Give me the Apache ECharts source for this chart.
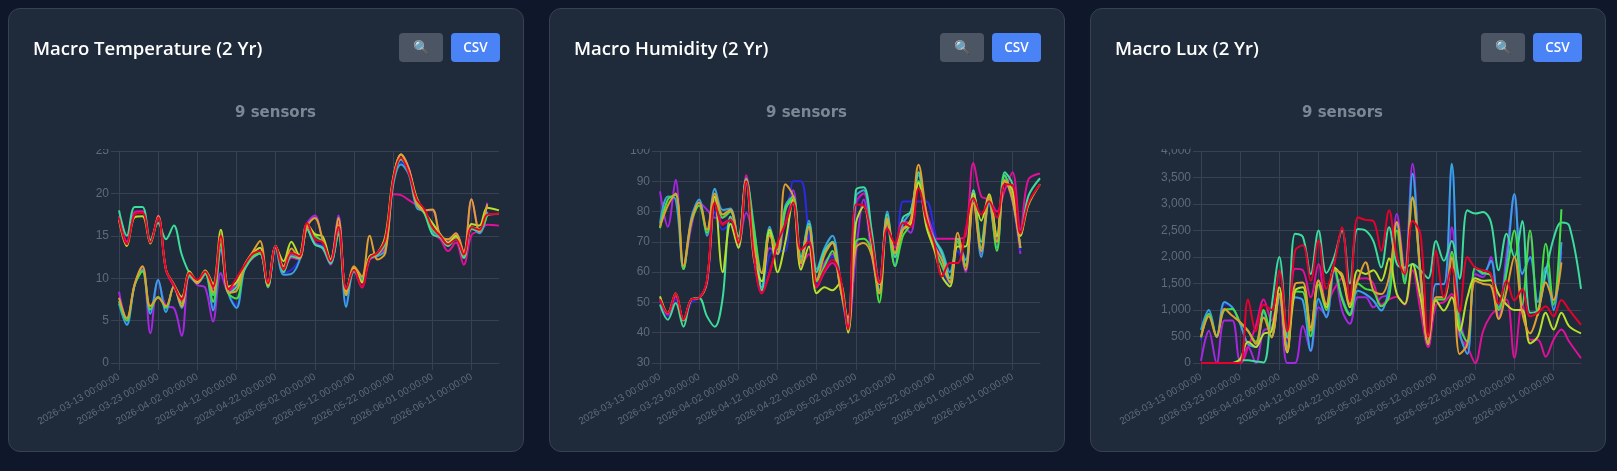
<!DOCTYPE html>
<html>
<head>
<meta charset="utf-8">
<title>Macro charts</title>
<script src="https://cdn.jsdelivr.net/npm/echarts@6/dist/echarts.min.js"></script>
<style>
  html, body { margin: 0; padding: 0; background: #0f172a; width: 1617px; height: 471px; overflow: hidden; }
  .card { position: absolute; top: 8px; width: 516px; height: 444px; box-sizing: border-box; background: #1f2a3a; border: 1px solid #374151; border-radius: 12px; }
  .chart { position: absolute; left: -1px; top: -1px; width: 516px; height: 444px; }
  .head { position: absolute; left: 24px; top: 24px; font: 600 18.5px "Open Sans", "Noto Sans", sans-serif; color: #fff; line-height: 30px; z-index: 2; }
  .btn { position: absolute; top: 24px; height: 29px; line-height: 29px; border-radius: 4px; text-align: center; color: #fff; font: 600 13.5px/29px "Open Sans", "Noto Sans", sans-serif; z-index: 2; }
  .zoom { left: 390px; width: 44px; background: #4b5563; color: #5fd0ee; }
  .csv { left: 442px; width: 49px; background: #4a83f5; }
</style>
</head>
<body>
<div class="card" style="left:8px"><div class="head">Macro Temperature (2 Yr)</div><div class="btn zoom">🔍</div><div class="btn csv">CSV</div><div class="chart" id="chartTemp"></div></div>
<div class="card" style="left:549px"><div class="head">Macro Humidity (2 Yr)</div><div class="btn zoom">🔍</div><div class="btn csv">CSV</div><div class="chart" id="chartHum"></div></div>
<div class="card" style="left:1090px"><div class="head">Macro Lux (2 Yr)</div><div class="btn zoom">🔍</div><div class="btn csv">CSV</div><div class="chart" id="chartLux"></div></div>
<script>
// one category per day, readings below are taken every second day
const categories = [
  '2026-03-13 00:00:00','2026-03-14 00:00:00','2026-03-15 00:00:00','2026-03-16 00:00:00','2026-03-17 00:00:00','2026-03-18 00:00:00','2026-03-19 00:00:00',
  '2026-03-20 00:00:00','2026-03-21 00:00:00','2026-03-22 00:00:00','2026-03-23 00:00:00','2026-03-24 00:00:00','2026-03-25 00:00:00','2026-03-26 00:00:00',
  '2026-03-27 00:00:00','2026-03-28 00:00:00','2026-03-29 00:00:00','2026-03-30 00:00:00','2026-03-31 00:00:00','2026-04-01 00:00:00','2026-04-02 00:00:00',
  '2026-04-03 00:00:00','2026-04-04 00:00:00','2026-04-05 00:00:00','2026-04-06 00:00:00','2026-04-07 00:00:00','2026-04-08 00:00:00','2026-04-09 00:00:00',
  '2026-04-10 00:00:00','2026-04-11 00:00:00','2026-04-12 00:00:00','2026-04-13 00:00:00','2026-04-14 00:00:00','2026-04-15 00:00:00','2026-04-16 00:00:00',
  '2026-04-17 00:00:00','2026-04-18 00:00:00','2026-04-19 00:00:00','2026-04-20 00:00:00','2026-04-21 00:00:00','2026-04-22 00:00:00','2026-04-23 00:00:00',
  '2026-04-24 00:00:00','2026-04-25 00:00:00','2026-04-26 00:00:00','2026-04-27 00:00:00','2026-04-28 00:00:00','2026-04-29 00:00:00','2026-04-30 00:00:00',
  '2026-05-01 00:00:00','2026-05-02 00:00:00','2026-05-03 00:00:00','2026-05-04 00:00:00','2026-05-05 00:00:00','2026-05-06 00:00:00','2026-05-07 00:00:00',
  '2026-05-08 00:00:00','2026-05-09 00:00:00','2026-05-10 00:00:00','2026-05-11 00:00:00','2026-05-12 00:00:00','2026-05-13 00:00:00','2026-05-14 00:00:00',
  '2026-05-15 00:00:00','2026-05-16 00:00:00','2026-05-17 00:00:00','2026-05-18 00:00:00','2026-05-19 00:00:00','2026-05-20 00:00:00','2026-05-21 00:00:00',
  '2026-05-22 00:00:00','2026-05-23 00:00:00','2026-05-24 00:00:00','2026-05-25 00:00:00','2026-05-26 00:00:00','2026-05-27 00:00:00','2026-05-28 00:00:00',
  '2026-05-29 00:00:00','2026-05-30 00:00:00','2026-05-31 00:00:00','2026-06-01 00:00:00','2026-06-02 00:00:00','2026-06-03 00:00:00','2026-06-04 00:00:00',
  '2026-06-05 00:00:00','2026-06-06 00:00:00','2026-06-07 00:00:00','2026-06-08 00:00:00','2026-06-09 00:00:00','2026-06-10 00:00:00','2026-06-11 00:00:00',
  '2026-06-12 00:00:00','2026-06-13 00:00:00','2026-06-14 00:00:00','2026-06-15 00:00:00','2026-06-16 00:00:00','2026-06-17 00:00:00','2026-06-18 00:00:00'
];

// sensor colours, same order in every chart
const sensorColors = ['#a528e0', '#2b2be0', '#e0109a', '#38a3dc', '#3ddc9c', '#44e040', '#b8e02a', '#e0a030', '#e8002c'];

// temperature
const tempPurple = [8.4,5,9.2,11.3,3.5,9.8,6.7,6.5,3.2,10.6,
  9.2,8.9,4.9,10.6,8.3,9.5,11,12.4,13,9.3,
  13.8,11,12.8,12.4,16.4,17.4,14.4,12.3,17.4,8.3,
  11.2,9.8,12.4,12.8,14.6,21.6,24.6,23,19,18,
  18,15,14.5,15.3,13,19.3,15.5,18.9,null];
const tempBlue = [7.1,4.7,9.2,11,6,9.7,6.1,9,6.6,10.3,
  9.4,10.5,6.5,13.4,8.2,6.8,11,12.5,13,9.1,
  13.6,10.6,11,12.2,16,14.2,13.8,11.8,15.7,7,
  10.9,10,12.5,12.7,13.7,21.2,23.7,22.3,18.5,17.8,
  15.7,15,14.1,14.7,12.6,16,15.5,17.9,null];
const tempMagenta = [17.3,14.3,17.8,17.9,14.2,17.4,11,9,7.3,10.4,
  9.6,10.6,8.8,14.8,8.6,9.5,11.3,12.3,12.9,8.9,
  13.7,10.8,12.4,12.2,16,14.2,13.5,11.6,16.5,8.6,
  10.8,8.9,12.2,12.6,13.8,19.9,19.8,19.2,18.6,18,
  15.3,14.6,13.2,14.2,11.6,15.1,15.6,16.3,16.2];
const tempCyan = [7,4.5,9.2,11,5.8,9.8,6,9.1,6.5,10.2,
  9.4,10.5,6.2,13.3,8.1,6.5,11,12.4,12.9,9,
  13.6,10.4,10.5,12,15.8,14,13.5,11.7,15.5,6.6,
  10.8,10,12.5,12.6,13.4,21,23.4,22.2,18.3,17.8,
  15.6,14.9,14,14.6,12.4,16,15.3,17.8,null];
const tempTeal = [18,15,18.4,18.4,14.5,16.5,14.6,16.2,12.8,10.6,
  9.5,10.6,8,14,8.2,9,11,12.4,12.9,9,
  13.8,10.7,12.6,12.3,15.8,14,13.6,11.8,15.2,8,
  10.9,9.6,12.3,12.8,14.2,21.4,24,22.6,18.9,17.6,
  15.2,14.8,13.8,14.7,12.4,15.8,15.6,17.4,17.6];
const tempGreen = [7.3,5,9.2,10.8,6.3,7.8,6.5,9,7,10.4,
  9.5,10.6,7.2,14,8.2,7.6,11.3,12.6,13,9,
  13.7,11,13,12.5,16.2,15,14.3,12,16,8.3,
  11,9.7,12.6,12.9,14.5,21.5,24.1,22.5,19,17.8,
  15.8,15,14,14.8,12.6,16,15.8,17.5,null];
const tempLime = [16.9,13.8,17.2,17.3,14.1,17.3,11,9.3,7.8,10.8,
  9.6,10.9,9.3,15.7,9,9.5,11.5,12.9,13.6,9.2,
  13.7,12,14.3,12.7,16.4,15.2,14.9,12.2,16.2,8.5,
  11.2,9.5,12.6,13,15,21.9,24.6,22.8,19.5,17.8,
  16.5,15.2,14.2,15,13,16.4,16.2,18.3,18];
const tempOrange = [7.7,5.3,9.3,11.4,6.7,7.7,6.7,9,6.7,10.6,
  9.4,10.8,8.3,14.6,8.3,8.5,11.5,13,14.4,9.3,
  13.8,11.4,13.5,12.4,16.1,17.1,14.6,12,17.1,8,
  11.4,10.2,15,12.2,13,21.6,24.6,22.8,18.7,18,
  18.1,15,14.6,15.3,13,19.3,15.5,18.7,null];
const tempRed = [17.1,14,17.5,17.7,14.2,17.2,11,9.2,7.5,10.6,
  9.8,10.8,9,15,8.7,10,11.5,12.8,13.2,9.4,
  13.8,11,13,12.6,16.5,14.6,14.2,12,16.1,8.7,
  11,9,12.4,13,14.6,21.6,24.2,22.4,19.3,18.1,
  16,15,14,14.6,12.8,16,15.7,17.5,17.6];

// humidity
const humPurple = [86.7,75,90.5,61,75,83,80.6,78,78,80,
  69,79.5,70,54,68,66,80,87,63,72,
  56,63,66,55,42,66,84,66,54,76,
  65,75,73,90,80,72,64,58,70,60,
  84,66,84,70,91,83,66,null,null];
const humBlue = [50.5,45.5,51,44,50,51.5,56,80,74,76,
  68,89,64,54,65.8,67,67,90,90,71.8,
  56,62,65,57,41,82,86,70,54,75,
  62,83.3,83.3,83.3,83.3,74,62,56,67,62,
  85,68,83,70,91,84,67,null,null];
const humMagenta = [51,46,52,44.5,51,51.5,57,83,76,77.5,
  70,92,65,53,60,69,76,84,62,66,
  55,60,63,58,40.5,83,86,72,57,76,
  68,77,76,90,80,71,71,71,71,72,
  96,85,84,80,87,93,74,90.5,92.6];
const humCyan = [76,85,84,61,78,84,72,87.5,80.5,81,
  70,91,75,55,75,66,82,85,64,77,
  61,68,72,58,44,85,87,72,54,80,
  62,76,80,92,78,71,67,60,70,64,
  87,65,83,68,92,84,68,null,null];
const humTeal = [49.3,44.3,49.8,42,51,51.5,45.4,42,51.5,78.4,
  71.8,90.5,72,54,73,66,81,84,65,76,
  60,67,70,57,43,87,88,74,56,79,
  65,78,80,93,77,71,66,58,71,62,
  87,70,85,72,93,89,72,85,91];
const humGreen = [74.5,84,85.5,61,76.5,82,73,85,78,80,
  70,90.5,74,59.7,74,67.4,80.6,85,63,75,
  57,62,67,55,43,70,71,67,50,77,
  62,72,76,90,78,68,62,57,70,62,
  85,68,84,67,92,84,68,null,null];
const humLime = [52,46.5,53,44,51,51.5,57,85,60,76,
  68,90,64,57,74,60,70,84,60.8,68.5,
  53,55,54,56.4,40,76,81.7,69.6,53,77.3,
  66.3,74,76,89.4,75,67.4,58.6,55.3,68.5,68.5,
  86,77,85.7,71.8,90,87,72,82,89];
const humOrange = [75,82,86,62,77,83,74,86,79,80.6,
  69.6,90.5,68.5,59.7,72,66,89,85,63,75,
  57.5,65.7,69.6,55,45,68,69.6,65.7,53,77.8,
  66.3,74,77.3,95.5,79.5,69,64,56.5,73,60.8,
  82.8,67,85,70,90.4,84,68,null,null];
const humRed = [51,46.5,53,44.3,51,51.5,57.5,83,75.6,77.3,
  69.6,90,65,53,59.7,69.6,76,83,67.4,70,
  55.3,60.8,64,58.6,41,82.3,82,71,56.4,74.5,
  69.6,76.2,75,87.7,77.3,69.6,58.6,63,63,74,
  84.5,79,83.4,78,89,88.7,72.8,82.7,89];

// lux
const luxPurple = [40,610,0,800,800,40,300,0,610,670,
  1240,0,0,700,230,1050,900,1750,990,740,
  1240,1240,1050,1240,1300,2810,1750,3760,1550,360,
  1240,1240,2560,860,360,1680,1620,2000,860,2060,
  3130,1100,2400,940,1800,1190,2100,null,null];
const luxBlue = [430,980,490,1120,1040,740,360,310,950,490,
  1230,310,1230,1170,240,1200,870,1740,1230,930,
  1360,1300,1180,1000,1420,2620,1540,3550,1670,370,
  1480,1480,3700,620,180,1790,1670,1920,1050,1860,
  3170,1670,1980,1150,1790,1000,2260,null,null];
const luxMagenta = [0,0,0,0,0,0,300,700,1200,800,
  1300,450,1780,1750,1240,1870,1100,1400,1600,1100,
  1580,1600,1500,1100,1200,1250,1100,1750,1000,300,
  1100,1150,1300,500,300,0,600,900,1050,1200,
  100,1140,440,440,120,440,630,400,90];
const luxCyan = [625,1000,490,1150,1050,740,360,300,960,490,
  1240,300,1240,1180,230,1210,860,1750,1240,930,
  1365,1300,1180,990,1430,2630,1550,3570,1680,360,
  1490,1490,3760,610,170,1800,1680,1930,1050,1870,
  3190,1680,2000,1150,1800,1000,2280,null,null];
const luxTeal = [0,0,0,0,0,50,50,30,10,1050,
  2000,480,2440,2380,1680,2500,1700,2000,2500,1500,
  2530,2500,2300,1800,2560,1870,1800,1870,1750,1600,
  2300,1930,2300,1590,2880,2820,2850,2660,1750,2440,
  2000,2680,950,1000,1700,2350,2650,2590,1400];
const luxGreen = [480,930,520,1000,1020,760,600,400,1000,500,
  1300,220,1350,1340,500,1480,1000,1800,1200,900,
  1500,1400,1350,1070,1250,2500,1500,3100,1700,350,
  1200,1200,2100,700,400,1800,1700,1650,1000,1700,
  2500,1100,2500,900,2250,1100,2900,null,null];
const luxLime = [0,0,0,0,0,80,400,300,550,600,
  1430,200,1360,1430,670,1550,1050,1800,1620,1050,
  1750,1680,1750,1550,1970,1300,1115,1870,1240,490,
  1180,990,1240,610,1240,1600,1550,1560,1300,1100,
  1000,1000,370,500,950,630,950,690,560];
const luxOrange = [490,880,490,1020,890,770,610,360,860,480,
  1300,230,1490,1520,610,1560,1110,1750,1680,1115,
  1550,1900,1365,1300,1620,2660,1680,3130,1750,360,
  1240,1240,2000,170,360,1550,1490,1460,830,1370,
  2000,950,560,940,1520,1190,1900,null,null];
const luxRed = [0,0,0,0,0,0,1200,600,1100,1000,
  1745,600,2120,2220,1550,2310,1400,1870,2560,1180,
  2750,2700,2680,2120,2880,2000,1680,2680,2440,490,
  2120,1240,1800,960,2000,1800,1750,1680,1115,1550,
  1180,1390,880,950,1070,880,1190,1000,720];

const gridColor = '#374151';
const labelColor = '#5f6b7a';

function makeChart (id, lists, yMin, yMax, yStep, titleLeft) {
  const chart = echarts.init(document.getElementById(id));
  chart.setOption({
    animation: false,
    title: {
      text: '9 sensors',
      left: titleLeft,
      top: 93,
      textStyle: { color: '#7b8794', fontSize: 15, fontWeight: 'bold', fontFamily: 'DejaVu Sans' }
    },
    grid: { left: 111, right: 25, top: 143, height: 212 },
    xAxis: {
      type: 'category',
      boundaryGap: false,
      data: categories,
      axisLine: { lineStyle: { color: gridColor } },
      axisTick: { length: 7, interval: 9, lineStyle: { color: gridColor } },
      splitLine: { show: true, interval: 9, lineStyle: { color: gridColor } },
      axisLabel: { interval: 9, rotate: 30, margin: 13, fontSize: 10, color: labelColor, fontFamily: 'Liberation Sans' }
    },
    yAxis: {
      type: 'value',
      min: yMin,
      max: yMax,
      interval: yStep,
      axisLine: { show: true, lineStyle: { color: gridColor } },
      axisTick: { show: true, length: 8, lineStyle: { color: gridColor } },
      splitLine: { lineStyle: { color: gridColor } },
      axisLabel: { margin: 10, fontSize: 12, color: labelColor, fontFamily: 'Liberation Sans' }
    },
    // top tick label is cut off in the original
    graphic: [{ type: 'rect', z: 100, shape: { x: 60, y: 128, width: 40, height: 13 }, style: { fill: '#1f2a3a' } }],
    series: lists.map((values, i) => ({
      type: 'line',
      // last reading sits on the last day of the axis
      data: values.map((v, k) => [k === 48 ? 97 : k * 2, v]),
      smooth: 0.35,
      showSymbol: false,
      color: sensorColors[i],
      lineStyle: { width: 2 }
    }))
  });
}

makeChart('chartTemp', [tempPurple, tempBlue, tempMagenta, tempCyan, tempTeal, tempGreen, tempLime, tempOrange, tempRed], 0, 25, 5, 222);
makeChart('chartHum', [humPurple, humBlue, humMagenta, humCyan, humTeal, humGreen, humLime, humOrange, humRed], 30, 100, 10, 212);
makeChart('chartLux', [luxPurple, luxBlue, luxMagenta, luxCyan, luxTeal, luxGreen, luxLime, luxOrange, luxRed], 0, 4000, 500, 207);
</script>
</body>
</html>
